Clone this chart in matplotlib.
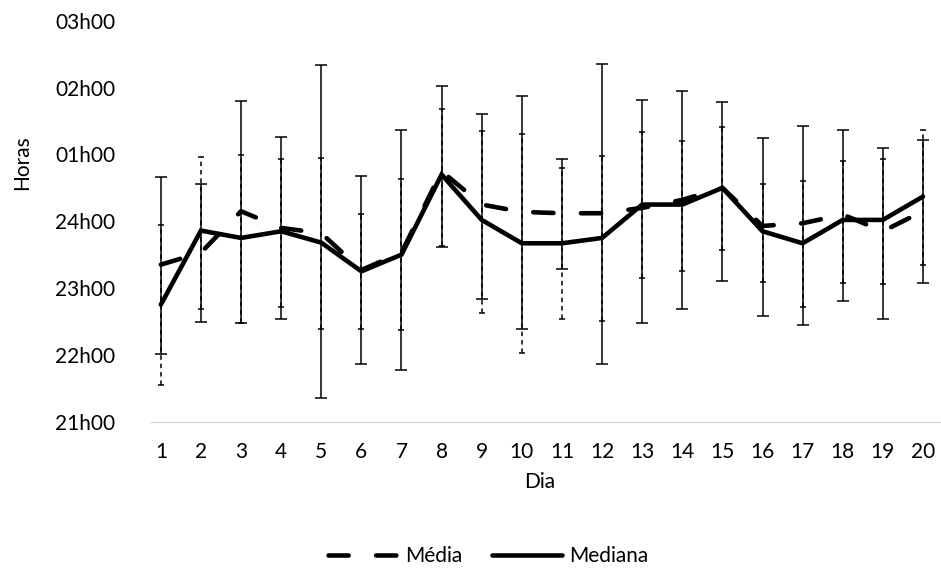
import numpy as np
import matplotlib.pyplot as plt

plt.rcParams['font.family'] = ['Lato', 'DejaVu Sans']

dias = list(range(1, 21))

# horas (24 = meia-noite, 25 = 01h00 ...)
media = [23.35, 23.53, 24.15, 23.90, 23.82, 23.27, 23.53, 24.75, 24.25, 24.14,
         24.12, 24.12, 24.20, 24.32, 24.50, 23.93, 23.97, 24.10, 23.85, 24.15]
mediana = [22.75, 23.86, 23.75, 23.85, 23.68, 23.25, 23.50, 24.70, 24.02, 23.67,
           23.67, 23.75, 24.25, 24.25, 24.50, 23.85, 23.67, 24.02, 24.02, 24.37]

media_sup = [23.95, 24.96, 25.00, 24.93, 24.95, 24.11, 24.63, 25.68, 25.35, 25.30,
             24.80, 24.98, 25.34, 25.20, 25.41, 24.56, 24.60, 24.90, 24.93, 25.37]
media_inf = [21.55, 22.69, 22.48, 22.72, 22.38, 22.38, 22.37, 23.63, 22.63, 22.02,
             22.53, 22.51, 23.15, 23.25, 23.57, 23.09, 22.71, 23.08, 23.06, 23.34]

mediana_sup = [24.67, 24.56, 25.80, 25.26, 26.34, 24.68, 25.36, 26.02, 25.60, 25.87,
               24.94, 26.35, 25.82, 25.95, 25.78, 25.24, 25.43, 25.37, 25.10, 25.22]
mediana_inf = [22.01, 22.49, 22.48, 22.53, 21.35, 21.86, 21.77, 23.62, 22.83, 22.39,
               23.29, 21.86, 22.47, 22.68, 23.10, 22.58, 22.44, 22.80, 22.53, 23.07]

y_ticks = [21, 22, 23, 24, 25, 26, 27]
y_labels = ['21h00', '22h00', '23h00', '24h00', '01h00', '02h00', '03h00']

FS = 15

x = np.array(dias)
media = np.array(media)
mediana = np.array(mediana)
err_media = [media - np.array(media_inf), np.array(media_sup) - media]
err_mediana = [mediana - np.array(mediana_inf), np.array(mediana_sup) - mediana]

fig = plt.figure(figsize=(9.41, 5.71), dpi=100)
ax = fig.add_axes([150 / 941, 1 - 421.5 / 571, 1 - 150 / 941, (421.5 - 21) / 571])

# barras de erro
eb1 = ax.errorbar(x, media, yerr=err_media, fmt='none', ecolor='black',
                  elinewidth=1.1, capsize=2.5, capthick=1.1, zorder=2)
eb1[2][0].set_linestyle((0, (3, 2.5)))
ax.errorbar(x, mediana, yerr=err_mediana, fmt='none', ecolor='black',
            elinewidth=1.1, capsize=4, capthick=1.1, zorder=2)

# linhas
ax.plot(x, media, color='black', linewidth=3.3, linestyle=(0, (4.4, 6.0)),
        dash_capstyle='round', label='Média', zorder=3)
ax.plot(x, mediana, color='black', linewidth=3.3, solid_capstyle='round',
        solid_joinstyle='miter', label='Mediana', zorder=3)

ax.set_xlim(0.73, 20.45)
ax.set_ylim(21, 27)
ax.set_xticks(dias)
ax.set_xticklabels([str(d) for d in dias], fontsize=FS)
ax.set_yticks(y_ticks)
ax.set_yticklabels(y_labels, fontsize=FS)
ax.tick_params(axis='x', length=0, pad=15)
ax.tick_params(axis='y', length=0, pad=25)

for s in ['top', 'right', 'left']:
    ax.spines[s].set_visible(False)
ax.spines['bottom'].set_color('#d9d9d9')
ax.spines['bottom'].set_linewidth(1.0)

fig.text(22 / 941, 1 - 163 / 571, 'Horas', rotation=90, ha='center', va='center',
         fontsize=FS)
fig.text(540 / 941, 1 - 482 / 571, 'Dia', ha='center', va='center', fontsize=FS)

fig.legend(loc='center', bbox_to_anchor=(488 / 941, 1 - 556 / 571), ncol=2,
           frameon=False, fontsize=FS, handlelength=3.4, handletextpad=0.3,
           columnspacing=1.4)

fig.savefig('out.png', dpi=100)
